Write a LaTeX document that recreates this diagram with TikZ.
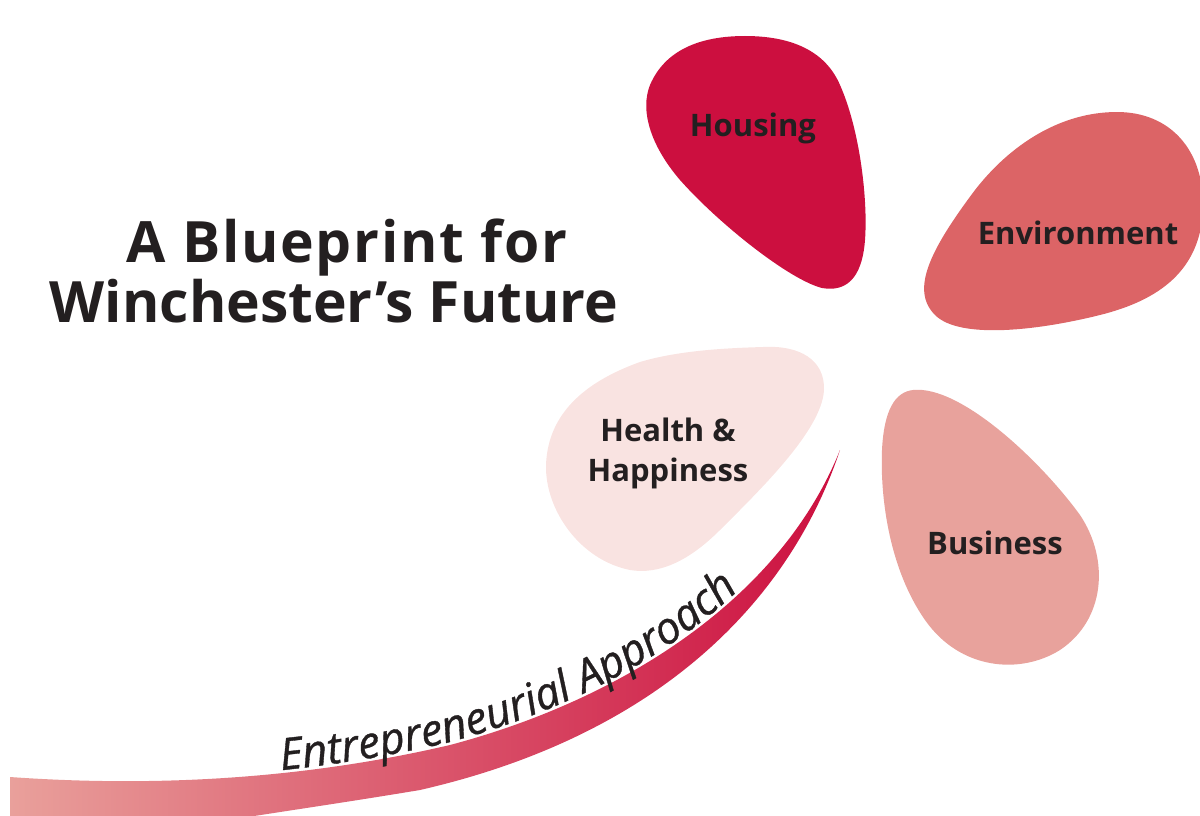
\documentclass[tikz,border=0pt]{standalone}
\usepackage{fontspec}
\setmainfont{Open Sans}
\newfontfamily\stemfont[FakeBold=0.8]{Open Sans Italic}
\usetikzlibrary{decorations.text}

\definecolor{housingred}{RGB}{204,15,63}
\definecolor{envred}{RGB}{220,100,102}
\definecolor{businesspink}{RGB}{232,162,156}
\definecolor{healthpink}{RGB}{249,227,225}
\definecolor{ink}{RGB}{35,31,32}
\definecolor{stemlight}{RGB}{233,160,155}

\tikzset{
  title/.style={text=ink,font=\fontsize{57}{60}\selectfont\bfseries,anchor=base,inner sep=0pt},
  petallabel/.style={text=ink,font=\fontsize{31}{40}\selectfont\bfseries,align=center,inner sep=0pt},
}

\begin{document}
\begin{tikzpicture}[x=1pt,y=-1pt]
\useasboundingbox (0,0) rectangle (1200,816);
\clip (0,0) rectangle (1200,816);

% petals
\fill[housingred] (745,36) .. controls (790,36) and (825,50) .. (840,85)
  .. controls (860,130) and (868,200) .. (865,240)
  .. controls (862,280) and (845,292) .. (822,288)
  .. controls (790,280) and (720,225) .. (680,180)
  .. controls (650,145) and (640,110) .. (650,85)
  .. controls (665,50) and (700,36) .. (745,36) -- cycle;

\fill[envred] (1117,112) .. controls (1170,112) and (1205,150) .. (1203,210)
  .. controls (1200,270) and (1160,300) .. (1100,315)
  .. controls (1040,330) and (960,340) .. (935,315)
  .. controls (910,290) and (930,250) .. (975,190)
  .. controls (1010,145) and (1060,112) .. (1117,112) -- cycle;

\fill[businesspink] (913,390) .. controls (960,385) and (1040,460) .. (1080,515)
  .. controls (1110,560) and (1105,620) .. (1060,650)
  .. controls (1020,675) and (960,670) .. (925,620)
  .. controls (890,570) and (880,500) .. (882,450)
  .. controls (884,410) and (895,392) .. (913,390) -- cycle;

\fill[healthpink] (763,347) .. controls (800,345) and (825,360) .. (824,390)
  .. controls (822,430) and (760,490) .. (720,530)
  .. controls (690,560) and (660,575) .. (630,570)
  .. controls (580,560) and (545,510) .. (546,465)
  .. controls (548,410) and (590,380) .. (640,362)
  .. controls (680,350) and (730,348) .. (763,347) -- cycle;

% stem
\shade[left color=stemlight, middle color=envred, right color=housingred]
  (10,777) .. controls (150,787) and (300,780) .. (450,745)
  .. controls (620,700) and (780,600) .. (840,450)
  .. controls (790,600) and (660,735) .. (420,790)
  .. controls (330,805) and (250,816) .. (180,828)
  -- (10,828) -- cycle;

\path[decorate,decoration={text along path,raise=3pt,
  text align={left indent=272pt},
  text={|\fontsize{44}{48}\stemfont\color{ink}|Entrepreneurial Approach}}]
  (10,777) .. controls (150,787) and (300,780) .. (450,745)
  .. controls (620,700) and (780,600) .. (840,450);

% labels
\node[title,font=\fontsize{57}{60}\selectfont\bfseries\addfontfeature{LetterSpace=3}] (line1) at (347,262) {A Blueprint for};
\node[title] (line2) at (334,322) {Winchester’s Future};

\node[petallabel] (housing) at (753,128) {Housing};
\node[petallabel] (environment) at (1078,233) {Environment};
\node[petallabel] (health) at (668,453) {Health \&\\Happiness};
\node[petallabel] (business) at (995,543) {Business};

\end{tikzpicture}
\end{document}
